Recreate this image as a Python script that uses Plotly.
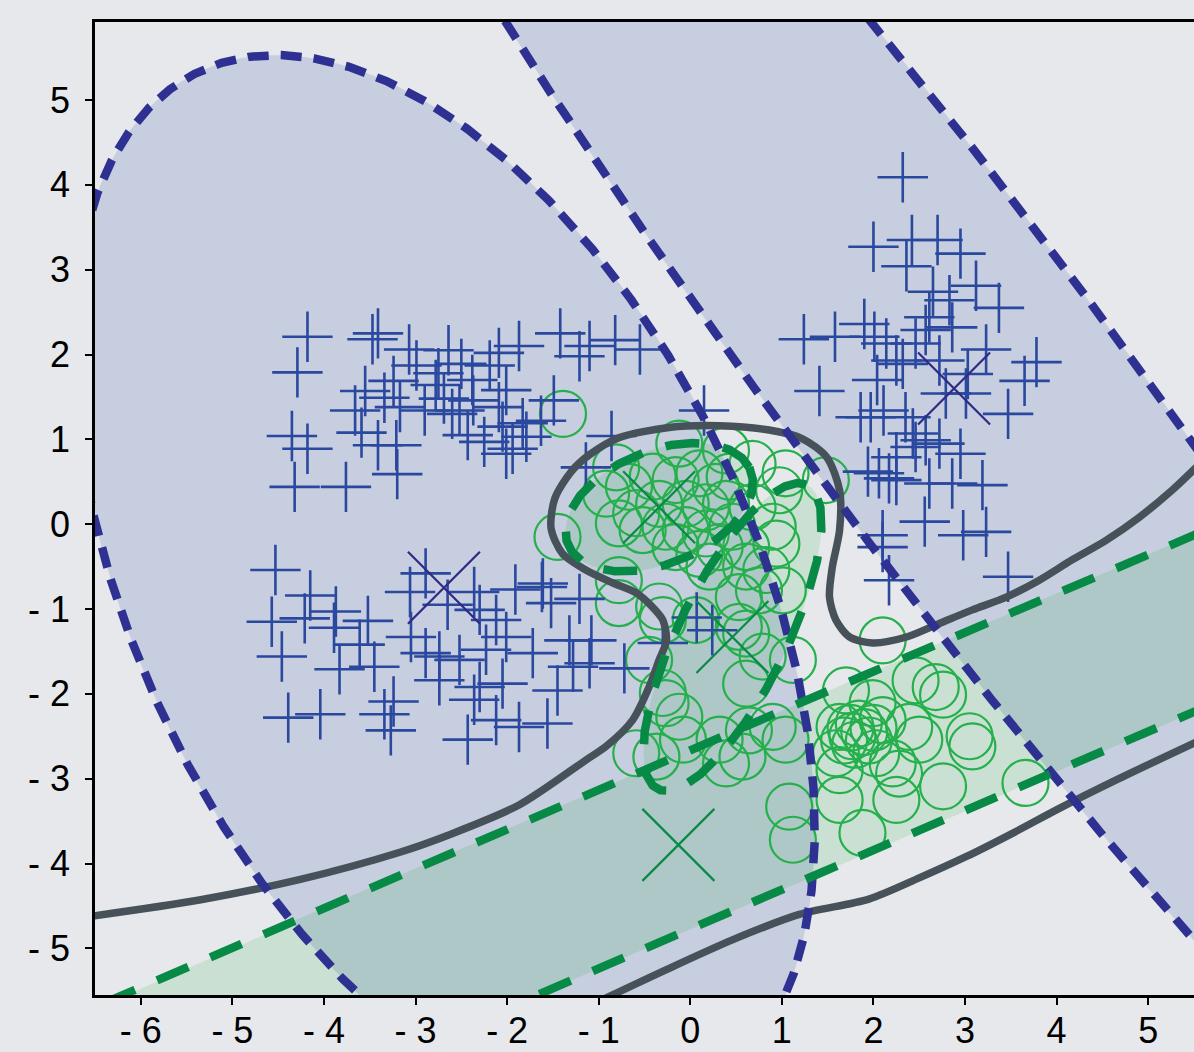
import numpy as np
import plotly.graph_objects as go

# ---------------- data ----------------
# Gaussian component contours (centre, semi-axes, angle in degrees)
comp_class = ["blue", "blue", "green", "green", "green"]
comp_cx = [-2.69, 2.88, -0.34, 0.46, -0.13]
comp_cy = [-0.75, 1.60, 0.20, -1.33, -3.78]
comp_a = [6.65, 13.3, 1.09, 1.97, 40.0]
comp_b = [3.41, 1.80, 0.66, 0.60, 0.96]
comp_ang = [-67.5, -55.4, 25.5, 65.9, 24.9]

blue_x = [-4.18, -4.29, -3.47, -3.41, -3.07, -3.24, -3.34, -3.17, -3.55, -3.66, -3.59, -3.41, -3.21, -3.2,
          -4.35, -4.18, -4.32, -3.76, -2.78, -2.64, -2.5, -2.75, -2.69, -2.37, -2.19, -2.09, -2.01, -1.87,
          -2.43, -2.25, -2.05, -1.94, -1.83, -1.63, -1.49, -1.42, -1.21, -1.1, -0.82, -0.55, -0.86, -1.14,
          -2.9, -2.6, -2.38, -2.09, -1.79, -2.01, -2.99, -2.52, 0.15,
          -4.53, -4.57, -4.46, -4.15, -4.21, -3.87, -3.89, -4.39, -4.04, -3.52, -3.61, -3.83, -3.45, -3.24,
          -3.34, -3.27, -2.89, -3.06, -2.65, -3.05, -2.89, -2.74, -2.36, -2.3, -2.12, -2.52, -2.23, -2.01,
          -1.91, -1.61, -1.52, -1.21, -1.32, -1.08, -1.28, -1.45, -1.56, -1.87, -2.12, -2.43, -0.72, -2.3,
          -2.05, -1.72, -2.36, -2.74, -0.3, -1.1, 0.07, 0.24, -1.62,
          2.32, 2.0, 2.42, 2.95, 2.7, 2.36, 2.65, 3.12, 3.37, 2.83, 1.24, 1.58, 1.9, 2.01, 2.14, 1.41, 2.57,
          2.46, 3.23, 3.78, 3.65, 3.47, 3.03, 2.04, 2.32, 1.86, 1.97, 2.11, 2.35, 2.57, 2.46, 2.72, 2.95,
          1.94, 2.17, 2.25, 2.61, 2.86, 3.19, 2.56, 2.98, 3.23, 2.1, 2.1, 2.17, 3.47, 2.25, 2.43, 2.79,
          3.01, 2.72, 2.86, 2.61, 2.25, 2.06]
blue_y = [2.21, 1.79, 2.18, 2.25, 2.06, 1.69, 1.49, 1.38, 1.57, 1.34, 1.08, 0.93, 0.93, 0.59,
          1.04, 0.89, 0.44, 0.44, 1.64, 2.05, 1.89, 1.78, 1.48, 1.46, 1.87, 2.02, 1.58, 2.1,
          1.05, 0.97, 1.15, 0.89, 1.19, 1.22, 1.46, 2.25, 1.98, 2.1, 2.17, 2.06, 1.04, 0.67,
          1.34, 1.3, 1.7, 1.38, 1.03, 0.83, 1.87, 1.34, 1.34,
          -0.54, -1.15, -1.56, -0.84, -1.11, -1.03, -1.22, -2.28, -2.24, -1.14, -1.42, -1.71, -1.68, -2.09,
          -2.24, -2.43, -0.58, -0.8, -0.95, -1.33, -1.52, -1.56, -0.8, -1.01, -1.13, -1.6, -1.48, -1.33,
          -0.77, -0.7, -0.93, -0.88, -1.37, -1.37, -1.68, -1.96, -2.35, -2.39, -2.31, -2.54, -1.7, -1.92,
          -1.88, -1.52, -2.07, -1.84, -1.4, -1.64, -1.1, -1.25, -0.74,
          4.09, 3.27, 3.35, 3.19, 3.35, 3.04, 2.74, 2.81, 2.55, 2.64, 2.18, 2.21, 2.36, 2.21, 2.13, 1.57, 2.29,
          2.13, 2.06, 1.91, 1.69, 1.3, 1.77, 1.7, 1.89, 1.26, 1.26, 1.34, 1.26, 0.99, 0.91, 0.95, 0.83,
          0.62, 0.54, 0.52, 0.48, 0.48, 0.46, 0.03, -0.13, -0.09, -0.13, -0.27, -0.66, -0.62, 0.79, 1.07, 1.54,
          1.54, 1.93, 2.32, 2.44, 1.93, 0.6]

green_x = [-1.39, -1.45, -0.12, -0.81, -0.92, -0.67, -0.41, -0.16, 0.1, 0.28, 0.43, -0.59, -0.34, -0.05,
           0.17, 0.39, -0.78, -0.52, -0.27, -0.05, 0.17, 0.46, -0.16, 0.1, 0.32, 0.61, 0.68, 0.68, 0.97,
           1.04, 1.48, 0.9, 0.94, 0.61, 0.83, 0.21, 1.01, 0.75, -0.78, -0.34, 0.53, 0.53, 0.39,
           -0.78, -0.3, 0.06, 0.61, 1.12, -0.45, -0.3, 0.79, 0.61, -0.12, -0.27, -0.59, -0.37, -0.08, 0.32,
           0.57, 0.64, 0.9, 1.04, 0.39, 1.08, 1.12, 2.1,
           1.7, 1.99, 2.46, 2.68, 2.76, 1.63, 1.84, 1.77, 2.1, 2.39, 2.5, 1.59, 1.63, 2.03, 2.21, 2.28,
           3.05, 3.08, 2.76, 2.25, 1.63, 1.88, 3.66, 1.75, 1.9, 1.95, 1.8, 2.0, 1.68]
green_y = [1.3, -0.15, 0.95, 0.67, 0.36, 0.44, 0.56, 0.52, 0.6, 0.44, 0.56, 0.13, 0.24, 0.24,
           0.2, 0.24, 0.01, -0.07, -0.03, -0.07, -0.11, -0.03, -0.27, -0.35, -0.27, -0.27, 0.71, 0.2, 0.4,
           0.6, 0.52, -0.03, -0.23, -0.5, -0.54, -0.5, -0.78, -0.78, -0.66, -0.97, -0.86, -1.21, 0.87,
           -0.93, -1.13, -1.13, -1.29, -1.6, -1.6, -1.99, -1.56, -1.88, -2.27, -2.11, -2.7, -2.74, -2.54, -2.54,
           -2.74, -2.43, -2.39, -2.54, -2.82, -3.33, -3.72, -1.37,
           -1.96, -2.11, -1.84, -1.92, -2.01, -2.39, -2.35, -2.5, -2.31, -2.39, -2.54, -2.7, -2.9, -2.7, -2.82, -2.94,
           -2.5, -2.62, -3.09, -3.25, -3.25, -3.64, -3.05, -2.4, -2.45, -2.55, -2.6, -2.4, -2.55]

# decision boundary (two branches)
bnd1_x = [-6.6, -5.36, -4.27, -3.18, -2.63, -1.87, -1.14, -0.92, -0.63, -0.45, -0.34, -0.26, -0.3, -0.41,
          -0.59, -0.85, -1.14, -1.4, -1.52, -1.48, -1.3, -1.1, -0.78, -0.23, 0.32, 0.86, 1.22, 1.49, 1.63,
          1.63, 1.55, 1.52, 1.59, 1.74, 1.99, 2.36, 2.72, 3.08, 3.45, 3.81, 4.17, 4.54, 4.9, 5.26, 5.6]
bnd1_y = [-4.63, -4.43, -4.19, -3.87, -3.66, -3.31, -2.78, -2.62, -2.31, -1.92, -1.6, -1.37, -1.13, -0.98,
          -0.81, -0.69, -0.54, -0.34, -0.05, 0.3, 0.62, 0.82, 1.02, 1.14, 1.16, 1.11, 1.01, 0.79, 0.4,
          -0.07, -0.51, -0.86, -1.13, -1.33, -1.4, -1.33, -1.17, -1.01, -0.86, -0.66, -0.42, -0.19, 0.08, 0.4, 0.75]
bnd2_x = [-0.95, -0.26, 0.46, 1.19, 1.95, 2.5, 3.01, 3.56, 4.03, 4.68, 5.6]
bnd2_y = [-5.6, -5.25, -4.9, -4.6, -4.42, -4.17, -3.92, -3.62, -3.35, -3.0, -2.53]

xtick_vals = [-6, -5, -4, -3, -2, -1, 0, 1, 2, 3, 4, 5]
xtick_text = ["- 6", "- 5", "- 4", "- 3", "- 2", "- 1", "0", "1", "2", "3", "4", "5"]
ytick_vals = [-5, -4, -3, -2, -1, 0, 1, 2, 3, 4, 5]
ytick_text = ["- 5", "- 4", "- 3", "- 2", "- 1", "0", "1", "2", "3", "4", "5"]

# ---------------- styles ----------------
BG = "#e6e8eb"
BLUE_FILL = "#c7cedf"
GREEN_FILL = "#c9e0d2"
TEAL_FILL = "#adc8c6"
NAVY = "#2e3192"
DGREEN = "#088a47"
CROSS = "#2a489e"
CIRC = "#25b04c"
GRAYLINE = "#465159"


def ellipse_pts(cx, cy, a, b, ang, n=1200):
    t = np.linspace(0, 2 * np.pi, n, endpoint=False)
    th = np.radians(ang)
    x = cx + a * np.cos(t) * np.cos(th) - b * np.sin(t) * np.sin(th)
    y = cy + a * np.cos(t) * np.sin(th) + b * np.sin(t) * np.cos(th)
    return list(zip(x.tolist(), y.tolist()))


def clip_poly(subj, clip):
    out = subj
    n = len(clip)
    for i in range(n):
        if not out:
            break
        ax, ay = clip[i]
        bx, by = clip[(i + 1) % n]
        dx, dy = bx - ax, by - ay

        def side(p):
            return dx * (p[1] - ay) - dy * (p[0] - ax)

        inp = out
        out = []
        s = inp[-1]
        ss = side(s)
        for e in inp:
            se = side(e)
            if se >= 0:
                if ss < 0:
                    r = ss / (ss - se)
                    out.append((s[0] + r * (e[0] - s[0]), s[1] + r * (e[1] - s[1])))
                out.append(e)
            elif ss >= 0:
                r = ss / (ss - se)
                out.append((s[0] + r * (e[0] - s[0]), s[1] + r * (e[1] - s[1])))
            s, ss = e, se
    return out


polys = [ellipse_pts(comp_cx[i], comp_cy[i], comp_a[i], comp_b[i], comp_ang[i]) for i in range(len(comp_cx))]

fig = go.Figure()


def add_fill(poly, color):
    if len(poly) < 3:
        return
    xs = [p[0] for p in poly] + [poly[0][0]]
    ys = [p[1] for p in poly] + [poly[0][1]]
    fig.add_trace(go.Scatter(x=xs, y=ys, mode="lines", fill="toself", fillcolor=color,
                             line=dict(width=0, color=color), hoverinfo="skip"))


for i, c in enumerate(comp_class):
    if c == "blue":
        add_fill(polys[i], BLUE_FILL)
for i, c in enumerate(comp_class):
    if c == "green":
        add_fill(polys[i], GREEN_FILL)
for i, ci in enumerate(comp_class):
    if ci != "blue":
        continue
    for j, cj in enumerate(comp_class):
        if cj != "green":
            continue
        inter = clip_poly(polys[j], polys[i])
        add_fill(inter, TEAL_FILL)

# markers
fig.add_trace(go.Scatter(x=green_x, y=green_y, mode="markers",
                         marker=dict(symbol="circle-open", size=46, color=CIRC, line=dict(width=2.2, color=CIRC))))
fig.add_trace(go.Scatter(x=blue_x, y=blue_y, mode="markers",
                         marker=dict(symbol="cross-thin", size=36, color=CROSS, line=dict(width=2.6, color=CROSS))))
# component centres
bx = [comp_cx[i] for i in range(5) if comp_class[i] == "blue"]
by = [comp_cy[i] for i in range(5) if comp_class[i] == "blue"]
gx = [comp_cx[i] for i in range(5) if comp_class[i] == "green"]
gy = [comp_cy[i] for i in range(5) if comp_class[i] == "green"]
fig.add_trace(go.Scatter(x=bx, y=by, mode="markers",
                         marker=dict(symbol="x-thin", size=72, color=NAVY, line=dict(width=2.2, color="#2f2a85"))))
fig.add_trace(go.Scatter(x=gx, y=gy, mode="markers",
                         marker=dict(symbol="x-thin", size=72, color=DGREEN, line=dict(width=2.2, color=DGREEN))))

# decision boundary
for bxs, bys in ((bnd1_x, bnd1_y), (bnd2_x, bnd2_y)):
    fig.add_trace(go.Scatter(x=bxs, y=bys, mode="lines",
                             line=dict(color=GRAYLINE, width=7.5, shape="spline", smoothing=0.8)))

# dashed contours
for i, c in enumerate(comp_class):
    xs = [p[0] for p in polys[i]] + [polys[i][0][0]]
    ys = [p[1] for p in polys[i]] + [polys[i][0][1]]
    if c == "blue":
        ln = dict(color=NAVY, width=8.5, dash="21px,12px")
    else:
        ln = dict(color=DGREEN, width=8.5, dash="34px,24px")
    fig.add_trace(go.Scatter(x=xs, y=ys, mode="lines", line=ln, hoverinfo="skip"))

font = dict(family="Liberation Sans, Arial, sans-serif", size=36, color="black")
fig.update_layout(
    width=1194, height=1052,
    margin=dict(l=95, r=0, t=22, b=57),
    paper_bgcolor=BG, plot_bgcolor=BG,
    showlegend=False,
    font=font,
)
fig.update_xaxes(range=[-6.5, 5.5], showgrid=False, zeroline=False, showline=True, linecolor="black",
                 linewidth=2.5, mirror=True, ticks="outside", ticklen=7, tickwidth=2, tickcolor="black",
                 tickvals=xtick_vals, ticktext=xtick_text, tickfont=font, automargin=False,
                 ticklabelstandoff=-5)
fig.update_yaxes(range=[-5.55, 5.92], showgrid=False, zeroline=False, showline=True, linecolor="black",
                 linewidth=2.5, ticks="outside", ticklen=7, tickwidth=2, tickcolor="black",
                 tickvals=ytick_vals, ticktext=ytick_text, tickfont=font, ticklabelstandoff=8,
                 automargin=False)

fig.write_html("out.html")
